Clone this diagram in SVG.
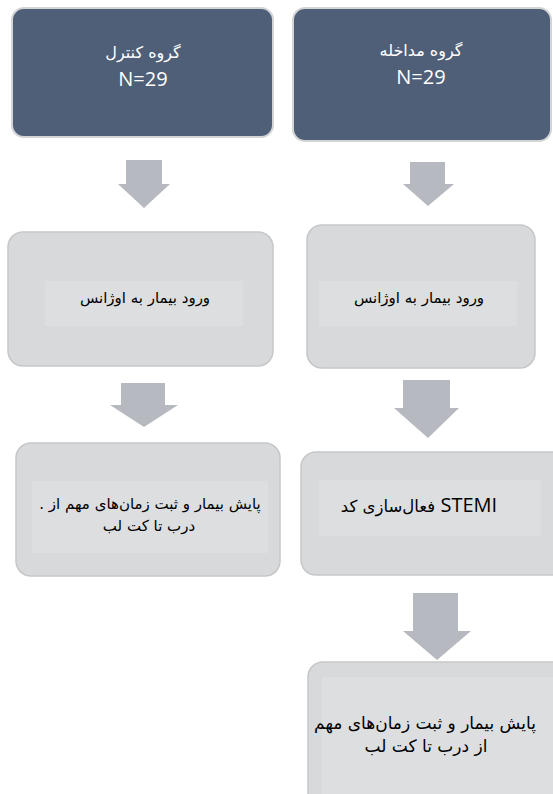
<svg xmlns="http://www.w3.org/2000/svg" width="553" height="794" viewBox="0 0 553 794">
<style>
.dark{fill:#4F5F77;stroke:#D3D4D6;stroke-width:2}
.gray{fill:#D8D9DA;stroke:#C6C7C9;stroke-width:1.5}
.inner{fill:#DDDEDF}
.arrow{fill:#B6B9C0}
.fa{font-family:'DejaVu Sans','Noto Sans',sans-serif;text-anchor:middle}
.en{font-family:'Open Sans','Noto Sans',sans-serif;text-anchor:middle}
.w{fill:#FFFFFF}
.k{fill:#000000}
</style>
<rect width="553" height="794" fill="#FFFFFF"/>
<g id="connectors">
<polygon class="arrow" points="126,160 162,160 162,184 170,184 144,208 118,184 126,184"/>
<polygon class="arrow" points="410,162 445,162 445,184 454,184 428,206 403,184 410,184"/>
<polygon class="arrow" points="121,383 165,383 165,405 178,405 144,427 110,405 121,405"/>
<polygon class="arrow" points="403,380 450,380 450,408 459,408 428,438 394,408 403,408"/>
<polygon class="arrow" points="413,593 458,593 458,631 471,631 437,660 403,631 413,631"/>
</g>
<g id="control-group">
<rect class="dark" x="12" y="8" width="261" height="129" rx="12"/>
<text class="fa w" x="143" y="58" font-size="16">گروه کنترل</text>
<text class="en w" x="143" y="86" font-size="20">N=29</text>
</g>
<g id="intervention-group">
<rect class="dark" x="293" y="8" width="258" height="133" rx="12"/>
<text class="fa w" x="421" y="56" font-size="16">گروه مداخله</text>
<text class="en w" x="421" y="84" font-size="20">N=29</text>
</g>
<g id="control-arrival">
<rect class="gray" x="8" y="232" width="265" height="134" rx="15"/>
<rect class="inner" x="45" y="281" width="198" height="45"/>
<text class="fa k" x="145" y="303" font-size="15">ورود بیمار به اوژانس</text>
</g>
<g id="intervention-arrival">
<rect class="gray" x="307" y="225" width="228" height="143" rx="15"/>
<rect class="inner" x="319" y="281" width="198" height="45"/>
<text class="fa k" x="419" y="303" font-size="15">ورود بیمار به اوژانس</text>
</g>
<g id="control-monitoring">
<rect class="gray" x="16" y="443" width="264" height="133" rx="15"/>
<rect class="inner" x="32" y="481" width="236" height="72"/>
<text class="fa k" x="150" y="509" font-size="15" direction="rtl">پایش بیمار و ثبت زمان‌های مهم از .</text>
<text class="fa k" x="149" y="531" font-size="15">درب تا کت لب</text>
</g>
<g id="stemi-activation">
<rect class="gray" x="301" y="452" width="270" height="123" rx="15"/>
<rect class="inner" x="319" y="480" width="222" height="56"/>
<text class="fa k" x="419" y="512" font-size="16.5">فعال‌سازی کد <tspan class="en" font-size="20">STEMI</tspan></text>
</g>
<g id="intervention-monitoring">
<rect class="gray" x="308" y="662" width="270" height="150" rx="15"/>
<rect class="inner" x="322" y="677" width="240" height="130"/>
<text class="fa k" x="425" y="729" font-size="17">پایش بیمار و ثبت زمان‌های مهم</text>
<text class="fa k" x="426" y="752" font-size="17">از درب تا کت لب</text>
</g>
</svg>
